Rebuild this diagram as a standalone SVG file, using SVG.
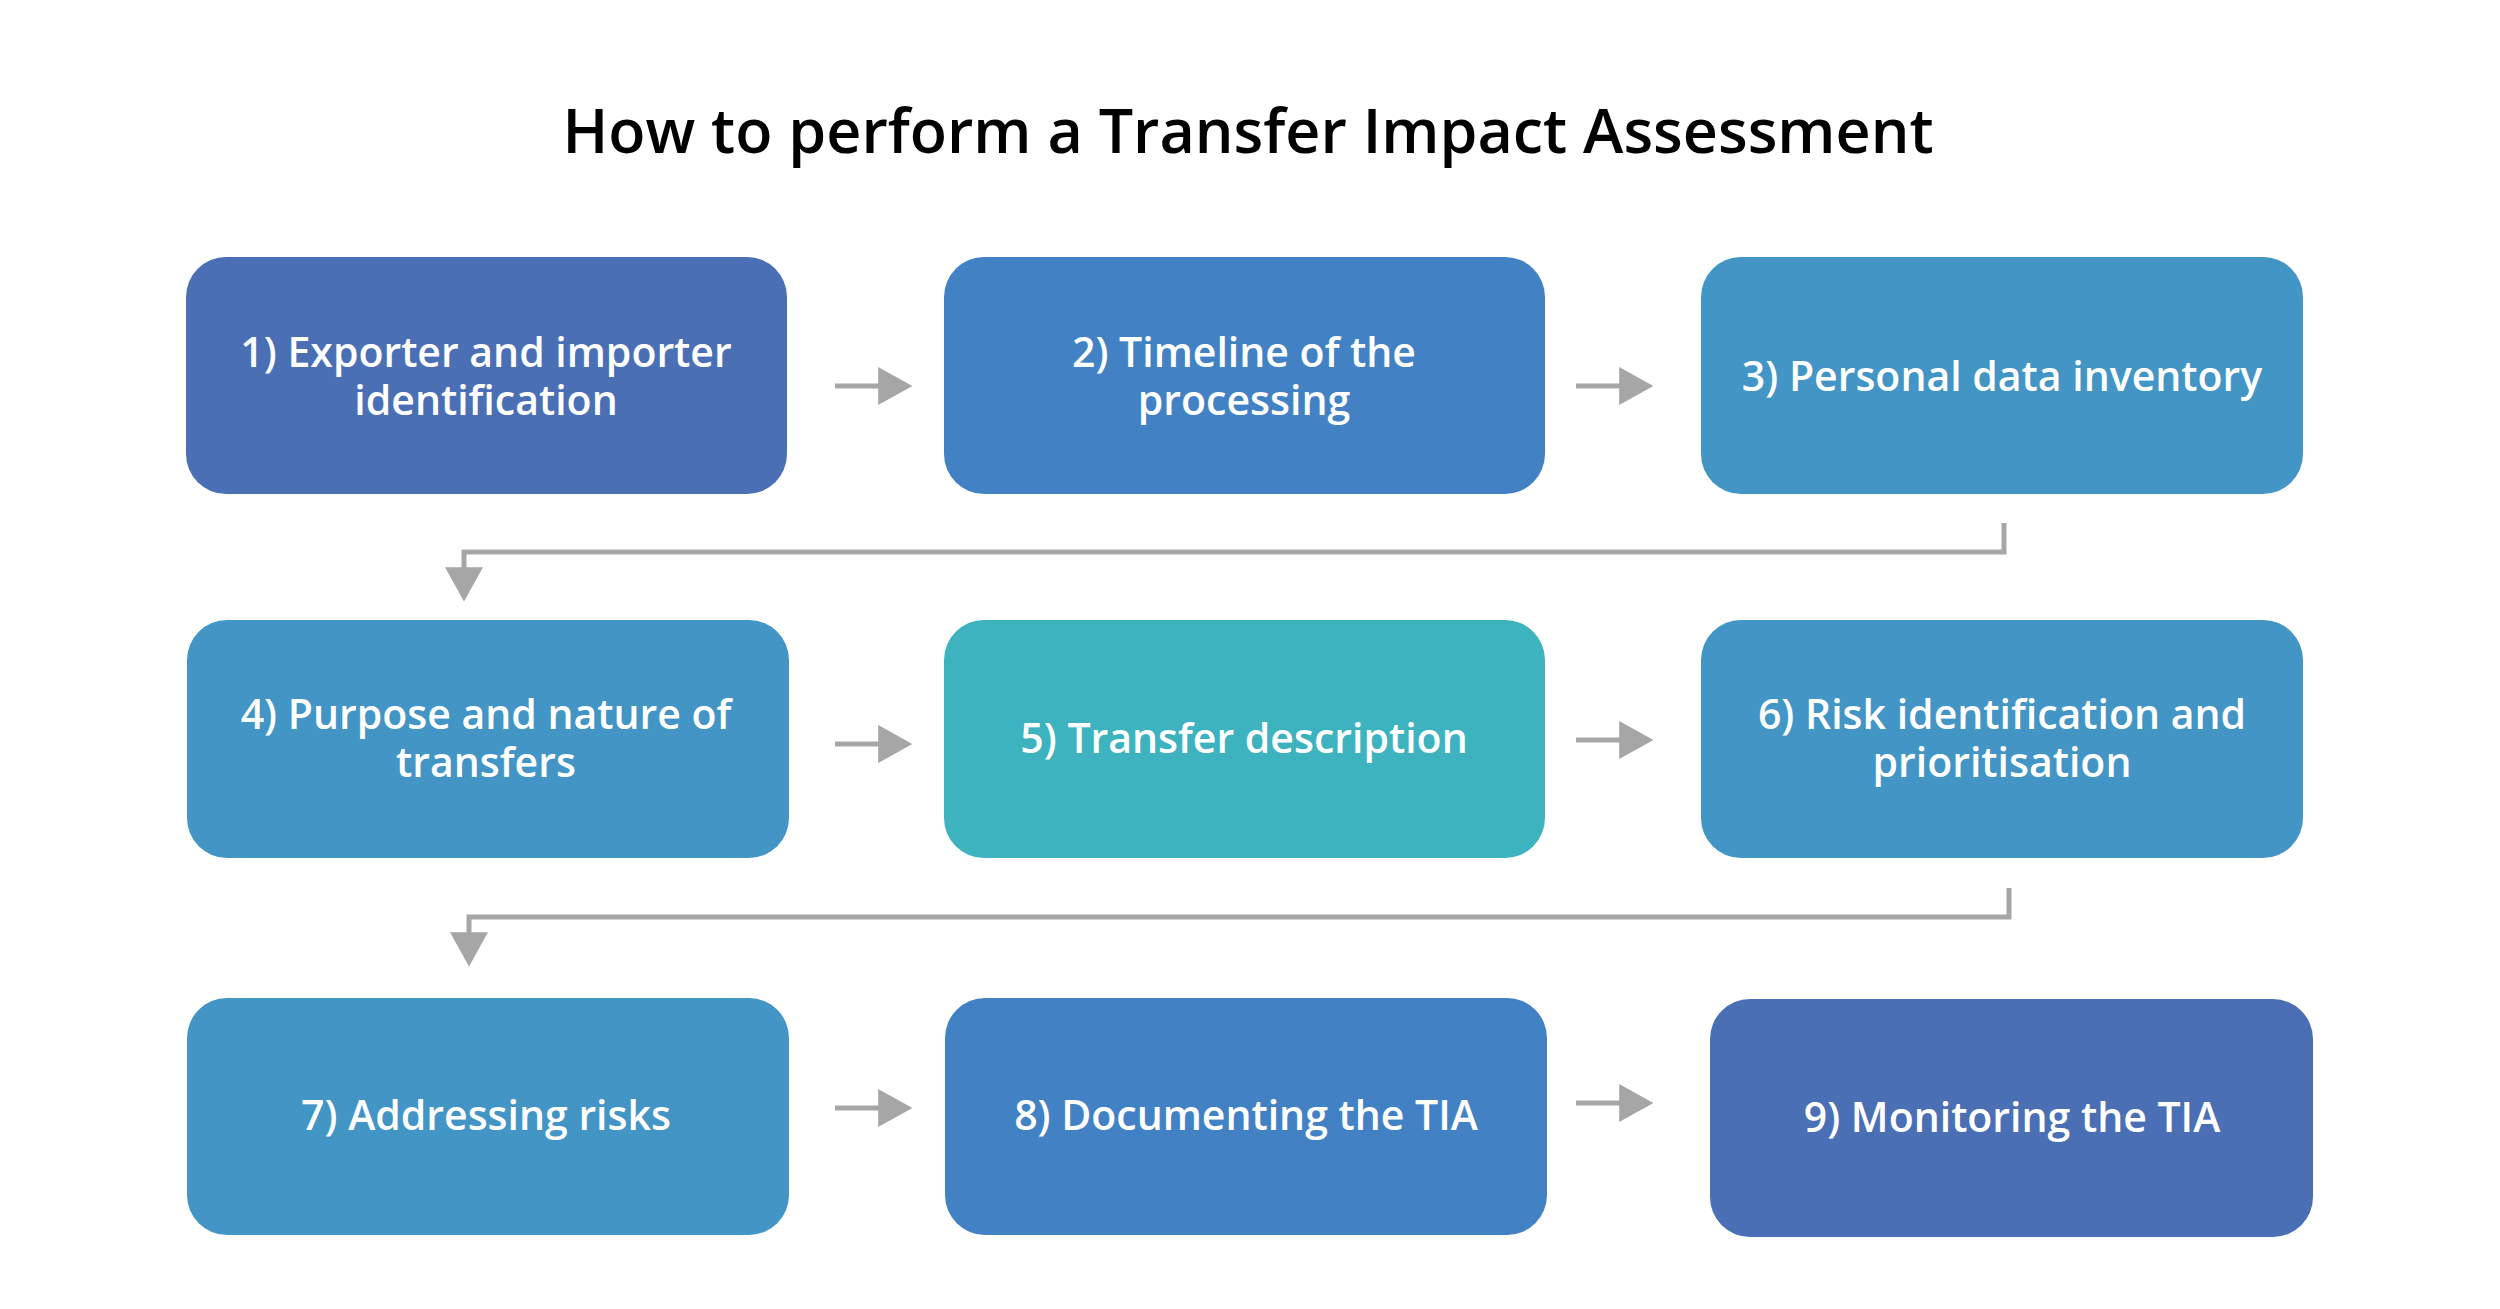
<svg xmlns="http://www.w3.org/2000/svg" width="2500" height="1309" viewBox="0 0 2500 1309">
<defs>
<style>
.t{font-family:"Open Sans","Noto Sans",sans-serif;font-weight:600;font-size:41px;fill:#fff;text-anchor:middle}
.h{font-family:"Open Sans","Noto Sans",sans-serif;font-weight:600;font-size:61px;fill:#000;text-anchor:middle}
.c{stroke:#a6a6a6;stroke-width:5;fill:none}
</style>
<marker id="ah" viewBox="0 0 10 10" refX="1" refY="5" markerWidth="38" markerHeight="38" markerUnits="userSpaceOnUse" orient="auto"><path d="M0,0 L9,5 L0,10Z" fill="#a6a6a6"/></marker>
</defs>
<rect width="2500" height="1309" fill="#fff"/>
<text class="h" x="1248" y="153">How to perform a Transfer Impact Assessment</text>
<g id="n1"><rect x="186" y="257" width="601" height="237" rx="40" fill="#4a6fb5"/><text class="t" x="486" y="367">1) Exporter and importer</text><text class="t" x="486" y="415">identification</text></g>
<g id="n2"><rect x="944" y="257" width="601" height="237" rx="40" fill="#4282c4"/><text class="t" x="1244" y="367">2) Timeline of the</text><text class="t" x="1244" y="415">processing</text></g>
<g id="n3"><rect x="1701" y="257" width="602" height="237" rx="40" fill="#4295c4"/><text class="t" x="2002" y="391">3) Personal data inventory</text></g>
<g id="n4"><rect x="187" y="620" width="602" height="238" rx="40" fill="#4295c4"/><text class="t" x="486" y="729">4) Purpose and nature of</text><text class="t" x="486" y="777">transfers</text></g>
<g id="n5"><rect x="944" y="620" width="601" height="238" rx="40" fill="#3db3bf"/><text class="t" x="1244" y="753">5) Transfer description</text></g>
<g id="n6"><rect x="1701" y="620" width="602" height="238" rx="40" fill="#4295c4"/><text class="t" x="2002" y="729">6) Risk identification and</text><text class="t" x="2002" y="777">prioritisation</text></g>
<g id="n7"><rect x="187" y="998" width="602" height="237" rx="40" fill="#4295c4"/><text class="t" x="486" y="1130">7) Addressing risks</text></g>
<g id="n8"><rect x="945" y="998" width="602" height="237" rx="40" fill="#4282c4"/><text class="t" x="1246" y="1130">8) Documenting the TIA</text></g>
<g id="n9"><rect x="1710" y="999" width="603" height="238" rx="40" fill="#4a6fb5"/><text class="t" x="2012" y="1132">9) Monitoring the TIA</text></g>
<g id="connectors">
<path class="c" d="M835,386 H882" marker-end="url(#ah)"/>
<path class="c" d="M1576,386 H1623" marker-end="url(#ah)"/>
<path class="c" d="M835,744 H882" marker-end="url(#ah)"/>
<path class="c" d="M1576,740 H1623" marker-end="url(#ah)"/>
<path class="c" d="M835,1108 H882" marker-end="url(#ah)"/>
<path class="c" d="M1576,1103 H1623" marker-end="url(#ah)"/>
<path class="c" d="M2004,523 V552 H464 V571" marker-end="url(#ah)"/>
<path class="c" d="M2009,888 V917 H469 V936" marker-end="url(#ah)"/>
</g>
</svg>
